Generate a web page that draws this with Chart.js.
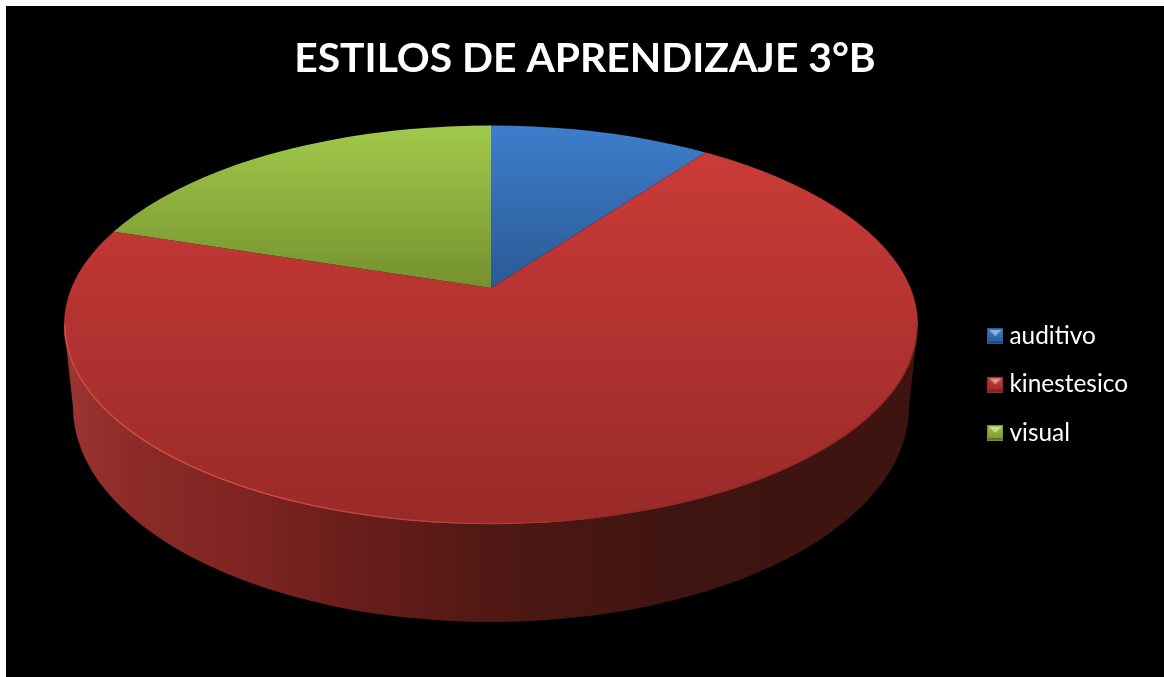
<!DOCTYPE html>
<html>
<head>
<meta charset="utf-8">
<style>
html,body{margin:0;padding:0;background:#fff;width:1164px;height:677px;overflow:hidden}
#wrap{position:absolute;left:6px;top:6px;width:1158px;height:671px;background:#000}
</style>
<script src="https://cdn.jsdelivr.net/npm/chart.js@4"></script>
</head>
<body>
<div id="wrap"><canvas id="c" width="1158" height="671"></canvas></div>
<script>
const titleText = 'ESTILOS DE APRENDIZAJE 3°B';
const categories = ['auditivo', 'kinestesico', 'visual'];
const shares = [10, 70, 20];
const topLight = ['#3e7ecd', '#cd3c39', '#a1ca4b'];
const topDark = ['#2a5a94', '#992a28', '#75912e'];
const wallStops = [[0, '#9c3632'], [0.08, '#8c2b27'], [0.2, '#802522'], [0.3, '#701f1c'], [0.5, '#501814'], [0.72, '#3f1511'], [1, '#3f1410']];

// geometry of the tilted disc, in canvas pixels
const OFF = 6;
const apex = {x: 491 - OFF, y: 288 - OFF};
const topE = {x: 491 - OFF, y: 325 - OFF, rx: 427, ry: 199.5};
const lowE = {x: 491 - OFF, y: 407 - OFF, rx: 418, ry: 215};
const topGrad = [[125, 288], [125, 524], [125, 288]];
const scaleTop = {x: 588, y: 270};   // on-screen radii of the top disc
const scaleWall = {x: 640, y: 420};  // on-screen radii of the wall ring

function transformFor(chart, i) {
  const s = i === 0 ? scaleWall : scaleTop;
  const r = chart.getDatasetMeta(i).controller.outerRadius;
  return {sx: s.x / r, sy: s.y / r};
}
function fillFor(c) {
  const chart = c.chart, ctx = chart.ctx, a = chart.chartArea;
  const ctrl = chart.getDatasetMeta(c.datasetIndex).controller;
  if (!ctrl || !ctrl.outerRadius || !a || c.dataIndex === undefined) return topLight[c.dataIndex || 0];
  const cx = (a.left + a.right) / 2, cy = (a.top + a.bottom) / 2;
  const t = transformFor(chart, c.datasetIndex);
  if (c.datasetIndex === 0) {
    const ux = X => cx + (X - apex.x) / t.sx;
    const g = ctx.createLinearGradient(ux(64 - OFF), 0, ux(918 - OFF), 0);
    wallStops.forEach(s => g.addColorStop(s[0], s[1]));
    return g;
  }
  const uy = Y => cy + (Y - OFF - apex.y) / t.sy;
  const [y0, y1] = topGrad[c.dataIndex];
  const g = ctx.createLinearGradient(0, uy(y0), 0, uy(y1));
  g.addColorStop(0, topLight[c.dataIndex]);
  g.addColorStop(1, topDark[c.dataIndex]);
  return g;
}
function swatch(i) {
  const s = document.createElement('canvas');
  s.width = 16; s.height = 16;
  const x = s.getContext('2d');
  x.fillStyle = topDark[i]; x.fillRect(0, 0, 16, 16);
  const g = x.createLinearGradient(0, 0, 0, 16);
  g.addColorStop(0, topLight[i]); g.addColorStop(1, topDark[i]);
  x.fillStyle = g; x.fillRect(1, 1, 14, 14);
  x.fillStyle = 'rgba(255,255,255,0.45)';
  x.beginPath(); x.moveTo(2, 2); x.lineTo(14, 2); x.lineTo(8, 8); x.closePath(); x.fill();
  x.fillStyle = 'rgba(0,0,0,0.22)';
  x.fillRect(1, 13, 14, 2);
  return s;
}

const disc3d = {
  id: 'disc3d',
  beforeDatasetDraw(chart, args) {
    const ctx = chart.ctx, i = args.index, arc = args.meta.data[0];
    const t = transformFor(chart, i);
    ctx.save();
    ctx.beginPath();
    if (i === 0) {
      ctx.moveTo(topE.x - topE.rx, topE.y);
      ctx.lineTo(lowE.x - lowE.rx, lowE.y);
      ctx.ellipse(lowE.x, lowE.y, lowE.rx, lowE.ry, 0, Math.PI, 0, true);
      ctx.lineTo(topE.x + topE.rx, topE.y);
      ctx.ellipse(topE.x, topE.y, topE.rx, topE.ry, 0, 0, Math.PI, false);
    } else {
      ctx.ellipse(topE.x, topE.y, topE.rx, topE.ry, 0, 0, Math.PI * 2);
    }
    ctx.closePath();
    ctx.clip();
    ctx.translate(apex.x, apex.y);
    ctx.scale(t.sx, t.sy);
    ctx.translate(-arc.x, -arc.y);
  },
  afterDatasetDraw(chart) { chart.ctx.restore(); },
  afterDatasetsDraw(chart) {
    const ctx = chart.ctx;
    const g = ctx.createLinearGradient(topE.x - topE.rx, 0, topE.x + topE.rx, 0);
    g.addColorStop(0, 'rgba(226,84,78,0.7)');
    g.addColorStop(0.25, 'rgba(226,84,78,0.7)');
    g.addColorStop(0.52, 'rgba(226,84,78,0.35)');
    g.addColorStop(0.62, 'rgba(120,40,36,0.3)');
    g.addColorStop(1, 'rgba(90,28,25,0.45)');
    ctx.save();
    ctx.strokeStyle = g; ctx.lineWidth = 1.6;
    ctx.beginPath();
    ctx.ellipse(topE.x, topE.y, topE.rx - 0.8, topE.ry - 0.8, 0, 0, Math.PI);
    ctx.stroke();
    ctx.restore();
  }
};

new Chart(document.getElementById('c'), {
  type: 'pie',
  data: {
    labels: categories,
    datasets: [
      {data: shares, backgroundColor: fillFor, borderWidth: 0, clip: false},
      {data: shares, backgroundColor: fillFor, borderWidth: 0, clip: false}
    ]
  },
  options: {
    responsive: false,
    animation: false,
    layout: {padding: {top: 28, right: 26, bottom: -58, left: 26}},
    plugins: {
      tooltip: {enabled: false},
      title: {
        display: true, text: titleText, color: '#fff',
        font: {family: 'Lato', weight: 'bold', size: 40.8},
        padding: {top: 0, bottom: 8}
      },
      legend: {
        display: true, position: 'right',
        labels: {
          color: '#fff', font: {family: 'Lato', size: 24.4},
          usePointStyle: true, pointStyleWidth: 4, boxWidth: 16, boxHeight: 16, padding: 24,
          generateLabels: () => categories.map((n, i) => ({
            text: n, fontColor: '#fff', pointStyle: swatch(i), index: i,
            lineWidth: 0, strokeStyle: 'transparent', fillStyle: topLight[i]
          }))
        }
      }
    }
  },
  plugins: [disc3d]
});
</script>
</body>
</html>
